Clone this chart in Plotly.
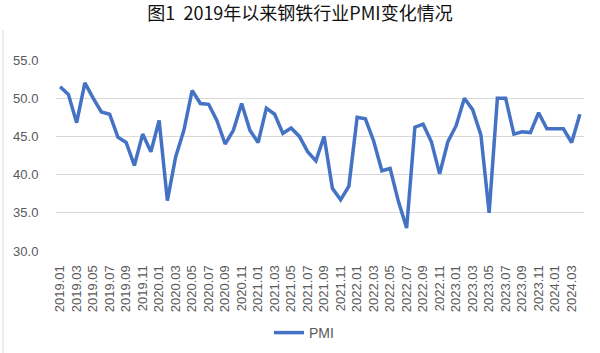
import plotly.graph_objects as go

months = [f"{y}.{m:02d}" for y in range(2019, 2025) for m in range(1, 13)][:64]
pmi = [51.5, 50.5, 46.8, 52.0, 50.0, 48.2, 47.9, 44.9, 44.2, 41.2, 45.3, 43.0,
       47.1, 36.6, 42.3, 45.8, 51.0, 49.3, 49.2, 47.1, 44.0, 45.8, 49.3, 45.8,
       44.2, 48.7, 47.9, 45.4, 46.1, 45.0, 43.0, 41.8, 45.0, 38.2, 36.7, 38.5,
       47.5, 47.3, 44.4, 40.5, 40.8, 36.5, 33.0, 46.2, 46.6, 44.3, 40.1, 44.3,
       46.4, 50.0, 48.5, 45.2, 35.0, 50.0, 50.0, 45.3, 45.6, 45.5, 48.1, 46.0,
       46.0, 46.0, 44.2, 47.9]
tick_labels = months[::2]
y_ticks = [30, 35, 40, 45, 50, 55]

title = "图1  2019年以来钢铁行业PMI变化情况"
gray = "#595959"
tick_font = dict(family="Liberation Sans, Arial, sans-serif", size=13, color=gray)

fig = go.Figure()
fig.add_trace(go.Scatter(x=months, y=pmi, mode="lines", name="PMI",
                         line=dict(color="#4472C4", width=3.5)))

fig.update_layout(
    width=600, height=353,
    margin=dict(l=56, r=16, t=60, b=102, autoexpand=False),
    paper_bgcolor="white", plot_bgcolor="white",
    title=dict(text=title, x=0.5, xanchor="center", y=1 - 14/353, yanchor="middle",
               font=dict(family="Noto Sans CJK SC", size=18, color="#111111")),
    showlegend=True,
    legend=dict(orientation="h", x=(304 - 56) / 528, xanchor="center",
                y=(251 - 333) / 191, yanchor="middle",
                font=dict(family="Liberation Sans, Arial, sans-serif", size=14, color=gray)),
    xaxis=dict(type="category", categoryorder="array", categoryarray=months,
               range=[-0.5, len(months) - 0.5], automargin=False,
               tickmode="array", tickvals=tick_labels, ticktext=tick_labels,
               tickangle=-90, tickfont=tick_font,
               showgrid=False, showline=False, zeroline=False,
               ticks="outside", ticklen=8, tickcolor="rgba(0,0,0,0)"),
    yaxis=dict(range=[30, 55], tickvals=y_ticks, automargin=False,
               ticktext=[f"{v:.1f}" for v in y_ticks], tickfont=tick_font,
               showgrid=True, gridcolor="#D9D9D9", gridwidth=1,
               zeroline=False, showline=False,
               ticks="outside", ticklen=14, tickcolor="rgba(0,0,0,0)"),
)
fig.add_shape(type="line", xref="paper", yref="paper",
              x0=(3 - 56) / 528, x1=(3 - 56) / 528,
              y0=(251 - 30) / 191, y1=(251 - 353) / 191,
              line=dict(color="#D9D9D9", width=1))

fig.write_html("out.html")
